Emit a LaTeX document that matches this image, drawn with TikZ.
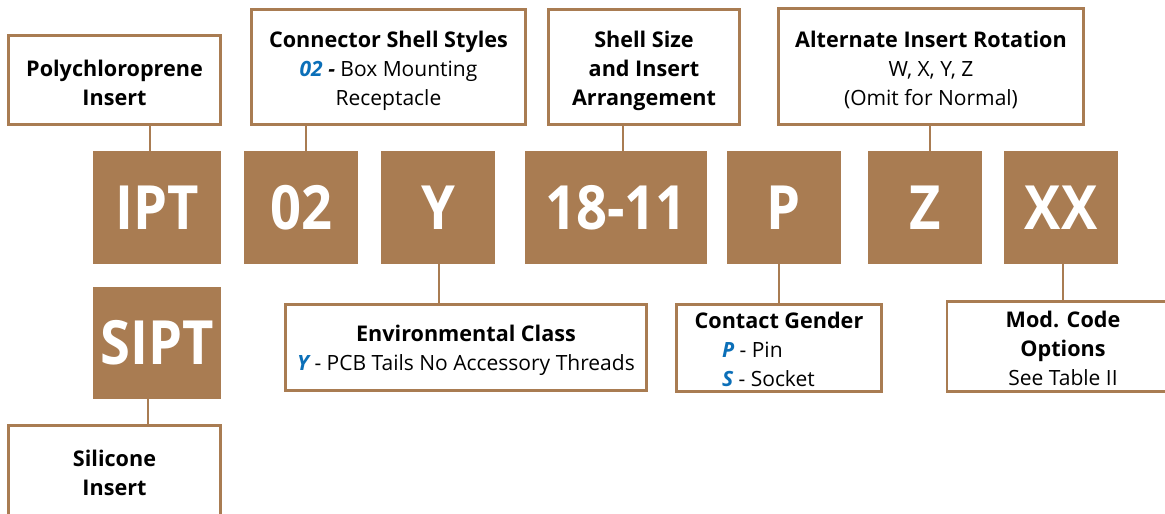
\documentclass[tikz,border=0pt]{standalone}
\usepackage{fontspec}
\setmainfont{Open Sans}
\newfontfamily\bigf[FakeStretch=0.89]{Open Sans}
\definecolor{brn}{HTML}{A97C52}
\definecolor{blu}{HTML}{0B6FB8}
\newcommand{\hl}[1]{\textcolor{blu}{\bfseries\itshape #1}}
\newcommand{\bt}{\fontsize{21.6}{29}\selectfont\bfseries}
\begin{document}
\begin{tikzpicture}[x=1pt,y=-1pt,
  code/.style={fill=brn, draw=none, text=white, inner sep=0, font=\bigf\fontsize{61}{61}\selectfont\bfseries},
  lbl/.style={draw=brn, line width=2.5pt, fill=white, inner sep=0},
  txt/.style={inner sep=0, align=center, font=\fontsize{21}{29}\selectfont},
  conn/.style={draw=brn, line width=2.5pt}]
\useasboundingbox (0,0) rectangle (1165,514);
% code boxes
\node[code, minimum width=128, minimum height=113] (ipt) at (157,207.5) {IPT};
\node[code, minimum width=114, minimum height=113] (c02) at (301,207.5) {02};
\node[code, minimum width=114, minimum height=113] (cy) at (438,207.5) {Y};
\node[code, minimum width=182, minimum height=113] (c1811) at (616,207.5) {18-11};
\node[code, minimum width=114, minimum height=113] (cp) at (784,207.5) {P};
\node[code, minimum width=114, minimum height=113] (cz) at (925,207.5) {Z};
\node[code, minimum width=114, minimum height=113] (cxx) at (1061,207.5) {XX};
\node[code, minimum width=128, minimum height=112] (sipt) at (157,343) {SIPT};
% label boxes
\node[lbl, minimum width=212, minimum height=89] (poly) at (114.5,80) {};
\node[lbl, minimum width=274, minimum height=115] (shellst) at (388.5,67) {};
\node[lbl, minimum width=191, minimum height=115] (size) at (644,67) {};
\node[lbl, minimum width=305, minimum height=116] (alt) at (931,66.5) {};
\node[lbl, minimum width=361, minimum height=86] (env) at (466,347.5) {};
\node[lbl, minimum width=205, minimum height=87] (gender) at (779,348) {};
\node[lbl, minimum width=232, minimum height=90] (mod) at (1063,346.5) {};
\node[lbl, minimum width=212, minimum height=93] (sil) at (114.5,472) {};
% label texts
\node[txt] (polyt) at ([yshift=-2.5]poly.center) {\bt Polychloroprene\\\bt Insert};
\node[txt] (shellstt) at ([yshift=-4]shellst.center) {\bt Connector Shell Styles\\\hl{02} {\bfseries\itshape -} Box Mounting\\Receptacle};
\node[txt] (sizet) at ([yshift=-4]size.center) {\bt Shell Size\\\bt and Insert\\\bt Arrangement};
\node[txt] (altt) at ([yshift=-3.5]alt.center) {\bt Alternate Insert Rotation\\W, X, Y, Z\\(Omit for Normal)};
\node[txt] (envt) at ([yshift=-3]env.center) {\bt Environmental Class\\\hl{Y} - PCB Tails No Accessory Threads};
\node[txt] (gendert) at ([yshift=-1]gender.center) {\bt Contact Gender\\\makebox[114pt][l]{\hl{P} - Pin}\\\makebox[114pt][l]{\hl{S} - Socket}};
\node[txt] (modt) at ([yshift=-1.5]mod.center) {\bt Mod. Code\\\bt Options\\See Table II};
\node[txt] (silt) at ([yshift=-0.5]sil.center) {\bt Silicone\\\bt Insert};
% connectors
\coordinate (k1) at ([xshift=-7pt]ipt.north);
\coordinate (k2) at ([xshift=5pt]c02.north);
\coordinate (k3) at ([xshift=1pt]cy.south);
\coordinate (k4) at ([xshift=7pt]c1811.north);
\coordinate (k5) at ([xshift=-5pt]cp.south);
\coordinate (k6) at ([xshift=5pt]cz.north);
\coordinate (k7) at ([xshift=2pt]cxx.south);
\coordinate (k8) at ([xshift=-9pt]sipt.south);
\draw[conn] (k1) -- (k1 |- poly.south);
\draw[conn] (k2) -- (k2 |- shellst.south);
\draw[conn] (k3) -- (k3 |- env.north);
\draw[conn] (k4) -- (k4 |- size.south);
\draw[conn] (k5) -- (k5 |- gender.north);
\draw[conn] (k6) -- (k6 |- alt.south);
\draw[conn] (k7) -- (k7 |- mod.north);
\draw[conn] (k8) -- (k8 |- sil.north);
\end{tikzpicture}
\end{document}
